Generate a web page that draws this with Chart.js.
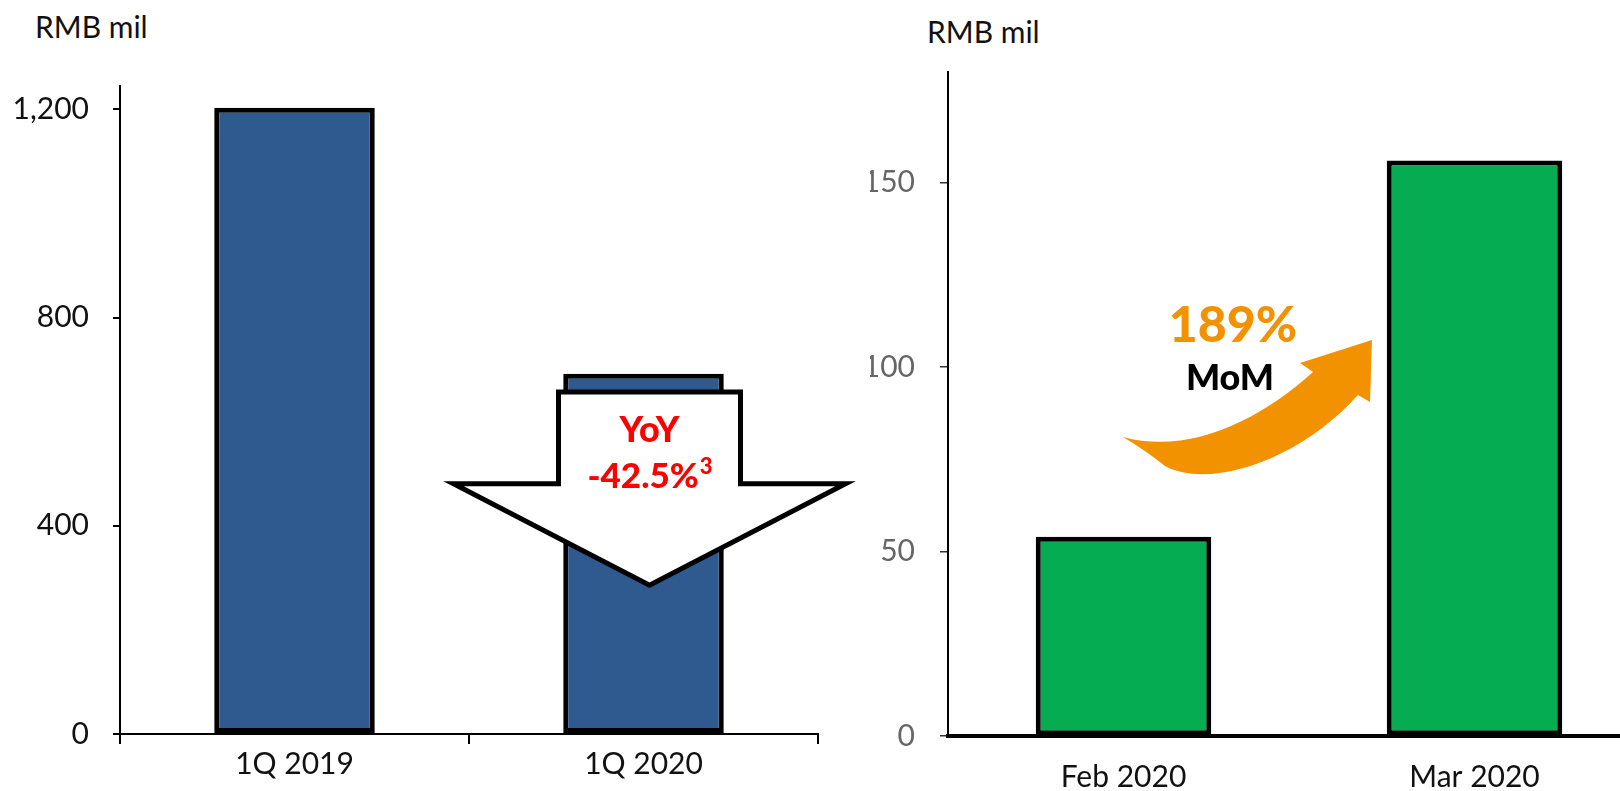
<!DOCTYPE html>
<html>
<head>
<meta charset="utf-8">
<script src="https://cdn.jsdelivr.net/npm/chart.js@4.4.1/dist/chart.umd.min.js"></script>
<style>
  html, body { margin: 0; padding: 0; background: #fff; overflow: hidden; width: 1620px; height: 791px; }
  canvas { position: absolute; top: 0; }
  #left { left: 0; }
  #right { left: 870px; }
  .unit { position: absolute; font-family: Lato, sans-serif; font-size: 30px; color: #111; }
</style>
</head>
<body>
<div class="unit" style="left:35px; top:8px;">RMB mil</div>
<div class="unit" style="left:927px; top:13px;">RMB mil</div>
<canvas id="right" width="780" height="791"></canvas>
<canvas id="left" width="870" height="791"></canvas>
<script>
const leftCategories = ['1Q 2019', '1Q 2020'];
const leftValues = [1203, 692];
const leftTicks = [0, 400, 800, 1200];

const rightCategories = ['Feb 2020', 'Mar 2020'];
const rightValues = [54, 156];
const rightTicks = [0, 50, 100, 150];

const fontFamily = 'Lato, sans-serif';

// white down arrow with YoY text
const yoyArrow = {
  id: 'yoyArrow',
  afterDatasetsDraw(chart) {
    const ctx = chart.ctx;
    const x = chart.scales.x, y = chart.scales.y;
    const cx = x.getPixelForValue(1) + 6;
    const top = y.getPixelForValue(657);
    const wingY = y.getPixelForValue(481);
    const tipY = y.getPixelForValue(286);
    ctx.save();
    ctx.beginPath();
    ctx.moveTo(cx - 91, top);
    ctx.lineTo(cx + 91, top);
    ctx.lineTo(cx + 91, wingY);
    ctx.lineTo(cx + 196, wingY);
    ctx.lineTo(cx, tipY);
    ctx.lineTo(cx - 196, wingY);
    ctx.lineTo(cx - 91, wingY);
    ctx.closePath();
    ctx.fillStyle = '#fff';
    ctx.fill();
    ctx.lineWidth = 5;
    ctx.strokeStyle = '#000';
    ctx.lineJoin = 'miter';
    ctx.stroke();

    ctx.fillStyle = '#ff0000';
    ctx.textAlign = 'center';
    ctx.textBaseline = 'alphabetic';
    ctx.font = '900 36px ' + fontFamily;
    ctx.fillText('YoY', cx, top + 50);
    ctx.font = '900 35px ' + fontFamily;
    const main = '-42.5%';
    const w = ctx.measureText(main).width;
    ctx.font = '900 22px ' + fontFamily;
    const sw = ctx.measureText('3').width;
    const start = cx - (w + sw) / 2;
    ctx.textAlign = 'left';
    ctx.font = '900 35px ' + fontFamily;
    ctx.fillText(main, start, top + 96);
    ctx.font = '900 22px ' + fontFamily;
    ctx.fillText('3', start + w + 1, top + 82);
    ctx.restore();
  }
};

// orange curved arrow with MoM text
const momArrow = {
  id: 'momArrow',
  afterDatasetsDraw(chart) {
    const ctx = chart.ctx;
    ctx.save();
    ctx.translate(-10, 0);
    ctx.beginPath();
    ctx.moveTo(263, 437);
    ctx.bezierCurveTo(330, 455, 400, 420, 453, 372);
    ctx.lineTo(440, 363);
    ctx.lineTo(512, 340);
    ctx.lineTo(510, 402);
    ctx.lineTo(498, 395);
    ctx.bezierCurveTo(440, 460, 350, 490, 305, 466);
    ctx.quadraticCurveTo(285, 450, 263, 437);
    ctx.closePath();
    ctx.fillStyle = '#F39200';
    ctx.fill();

    ctx.textAlign = 'center';
    ctx.textBaseline = 'alphabetic';
    ctx.font = '900 50px ' + fontFamily;
    ctx.fillText('189%', 373, 342);
    ctx.fillStyle = '#000';
    ctx.font = '900 36px ' + fontFamily;
    ctx.fillText('MoM', 370, 390);
    ctx.restore();
  }
};

new Chart(document.getElementById('left'), {
  type: 'bar',
  data: {
    labels: leftCategories,
    datasets: [{
      data: leftValues,
      backgroundColor: '#2E5A8F',
      borderColor: '#000',
      borderWidth: 5,
      borderSkipped: false,
      barPercentage: 1,
      categoryPercentage: 0.46
    }]
  },
  options: {
    responsive: false,
    animation: false,
    devicePixelRatio: 1,
    layout: { padding: { top: 86, right: 52, left: 0, bottom: 0 } },
    plugins: { legend: { display: false }, tooltip: { enabled: false } },
    scales: {
      x: {
        grid: { drawOnChartArea: false, drawTicks: true, tickLength: 10, color: '#000', lineWidth: 2 },
        border: { display: true, color: '#000', width: 2 },
        ticks: { color: '#111', font: { family: fontFamily, size: 30 }, padding: 2 },
        afterFit(scale) { scale.height = 57; }
      },
      y: {
        min: 0,
        max: 1245,
        afterBuildTicks(scale) { scale.ticks = leftTicks.map(v => ({ value: v })); },
        grid: { drawOnChartArea: false, drawTicks: true, tickLength: 7, color: '#000', lineWidth: 2 },
        border: { display: true, color: '#000', width: 2 },
        ticks: {
          color: '#111',
          font: { family: fontFamily, size: 30 },
          padding: 24,
          callback: v => v.toLocaleString('en-US')
        },
        afterFit(scale) { scale.width = 120; }
      }
    }
  },
  plugins: [yoyArrow]
});

new Chart(document.getElementById('right'), {
  type: 'bar',
  data: {
    labels: rightCategories,
    datasets: [{
      data: rightValues,
      backgroundColor: '#06AC52',
      borderColor: '#000',
      borderWidth: 5,
      borderSkipped: false,
      barPercentage: 1,
      categoryPercentage: 0.5
    }]
  },
  options: {
    responsive: false,
    animation: false,
    devicePixelRatio: 1,
    layout: { padding: { top: 72, right: 0, left: 0, bottom: 0 } },
    plugins: { legend: { display: false }, tooltip: { enabled: false } },
    scales: {
      x: {
        grid: { display: false, drawTicks: false },
        border: { display: true, color: '#000', width: 4 },
        ticks: { color: '#111', font: { family: fontFamily, size: 30 }, padding: 23 },
        afterFit(scale) { scale.height = 55; }
      },
      y: {
        min: 0,
        max: 180,
        afterBuildTicks(scale) { scale.ticks = rightTicks.map(v => ({ value: v })); },
        grid: { drawOnChartArea: false, drawTicks: true, tickLength: 8, color: '#333', lineWidth: 1.5 },
        border: { display: true, color: '#000', width: 2 },
        ticks: { color: '#666', font: { family: fontFamily, size: 30 }, padding: 25 },
        afterFit(scale) { scale.width = 78; }
      }
    }
  },
  plugins: [momArrow]
});
</script>
</body>
</html>
